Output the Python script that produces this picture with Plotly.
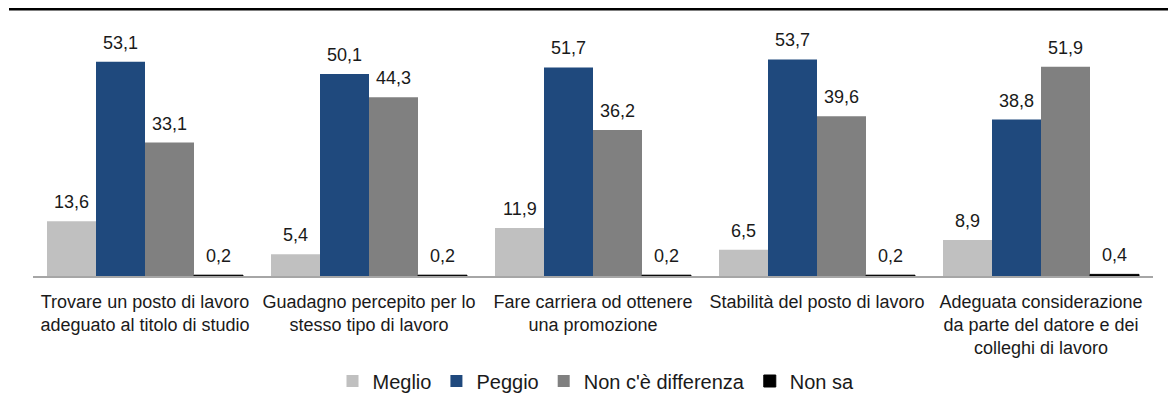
import plotly.graph_objects as go

categories = [
    "Trovare un posto di lavoro<br>adeguato al titolo di studio",
    "Guadagno percepito per lo<br>stesso tipo di lavoro",
    "Fare carriera od ottenere<br>una promozione",
    "Stabilità del posto di lavoro",
    "Adeguata considerazione<br>da parte del datore e dei<br>colleghi di lavoro",
]
series_names = ["Meglio", "Peggio", "Non c'è differenza", "Non sa"]
meglio = [13.6, 5.4, 11.9, 6.5, 8.9]
peggio = [53.1, 50.1, 51.7, 53.7, 38.8]
nondiff = [33.1, 44.3, 36.2, 39.6, 51.9]
nonsa = [0.2, 0.2, 0.2, 0.2, 0.4]
colors = ["#C0C0C0", "#1F497D", "#808080", "#000000"]

FONT = "Liberation Sans, Arial, sans-serif"
TXT = "#1a1a1a"

W, H = 1176, 405
ML, MR, MT, MB = 25, 31, 26, 137
BARGAP = 0.125
plot_w = W - ML - MR
plot_h = H - MT - MB
cat_w = plot_w / len(categories)
bar_w = cat_w * (1 - BARGAP) / len(series_names)

fig = go.Figure()
all_series = [meglio, peggio, nondiff, nonsa]
for j, (name, vals, col) in enumerate(zip(series_names, all_series, colors)):
    fig.add_trace(go.Bar(
        name=name, x=categories, y=vals,
        marker=dict(color=col, line=dict(width=1 if name == "Non sa" else 0, color=col)),
        cliponaxis=False, hoverinfo="x+y",
    ))
    for c, v in zip(categories, vals):
        fig.add_annotation(
            x=c, y=v, xref="x", yref="y", text=f"{v:.1f}".replace(".", ","),
            showarrow=False, yanchor="bottom", xanchor="center",
            xshift=(j - (len(series_names) - 1) / 2) * bar_w, yshift=7,
            font=dict(size=18, color=TXT, family=FONT),
        )

fig.update_layout(
    width=W, height=H,
    margin=dict(l=ML, r=MR, t=MT, b=MB, autoexpand=False),
    barmode="group", bargap=BARGAP, bargroupgap=0,
    plot_bgcolor="white", paper_bgcolor="white",
    font=dict(family=FONT, size=18, color=TXT),
    showlegend=True,
    legend=dict(orientation="h", x=(596 - 8 - ML) / plot_w, xanchor="center", yref="container",
                y=(H - 373) / H, yanchor="middle",
                font=dict(size=20, family=FONT, color=TXT), itemwidth=30,
                traceorder="normal", tracegroupgap=0),
    xaxis=dict(showline=True, linecolor="#A6A6A6", linewidth=2, ticks="",
               tickfont=dict(size=18, family=FONT, color=TXT), showgrid=False,
               automargin=False, ticklabelstandoff=8),
    yaxis=dict(range=[0, 60], visible=False, showgrid=False, automargin=False),
)
line_y = (plot_h + MT - 1.3) / plot_h
fig.add_shape(type="line", xref="paper", yref="paper",
              x0=(1 - ML) / plot_w, x1=(W - ML) / plot_w,
              y0=line_y, y1=line_y,
              line=dict(color="black", width=2.6))

fig.write_html("out.html")
